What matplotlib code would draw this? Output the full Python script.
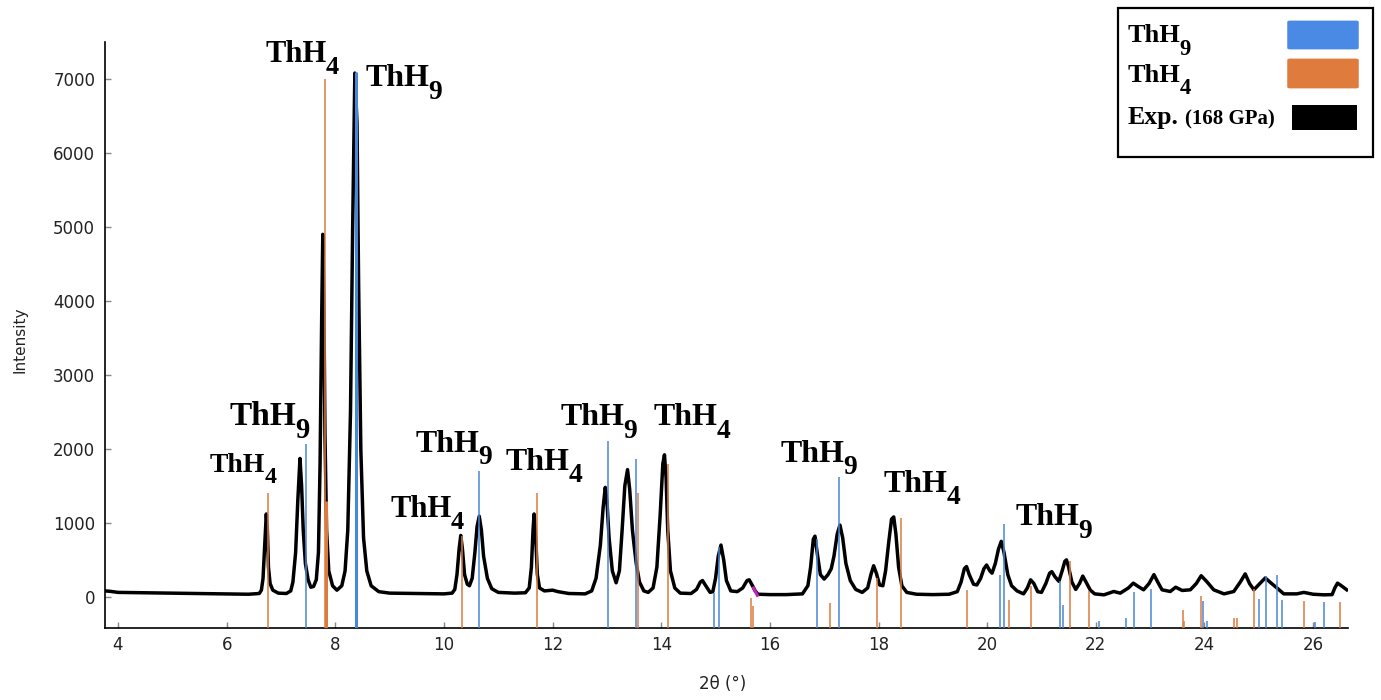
import numpy as np
import matplotlib.pyplot as plt
from matplotlib.patches import Rectangle, FancyBboxPatch
from matplotlib.transforms import offset_copy

exp_x = [3.76, 3.85, 4.0, 4.5, 5.0, 5.5, 6.0, 6.4, 6.6, 6.64, 6.67, 6.70, 6.73, 6.75, 6.77, 6.80, 6.85, 6.95,
         7.1, 7.18, 7.22, 7.27, 7.31, 7.35, 7.38, 7.41, 7.45, 7.50, 7.55, 7.60, 7.65, 7.69, 7.72, 7.75, 7.77,
         7.79, 7.81, 7.84, 7.88, 7.95, 8.03, 8.12, 8.18, 8.23, 8.28, 8.32, 8.36, 8.40, 8.43, 8.47, 8.52, 8.58,
         8.66, 8.8, 9.0, 9.5, 10.0, 10.15, 10.2, 10.24, 10.28, 10.31, 10.34, 10.38, 10.43, 10.47, 10.52, 10.57,
         10.61, 10.65, 10.69, 10.73, 10.80, 10.88, 11.0, 11.3, 11.5, 11.57, 11.61, 11.64, 11.66, 11.69, 11.72,
         11.76, 11.85, 12.0, 12.1, 12.3, 12.6, 12.72, 12.8, 12.88, 12.93, 12.97, 13.0, 13.04, 13.1, 13.17,
         13.23, 13.28, 13.33, 13.38, 13.42, 13.47, 13.50, 13.54, 13.6, 13.68, 13.76, 13.85, 13.92, 13.98, 14.03,
         14.06, 14.09, 14.12, 14.17, 14.25, 14.35, 14.55, 14.65, 14.72, 14.76, 14.82, 14.9, 14.95, 15.0, 15.05,
         15.1, 15.15, 15.2, 15.28, 15.4, 15.5, 15.58, 15.62, 15.68, 15.73, 15.78, 16.0, 16.3, 16.6, 16.7, 16.75,
         16.8, 16.83, 16.87, 16.93, 17.0, 17.07, 17.13, 17.18, 17.24, 17.29, 17.34, 17.40, 17.48, 17.58, 17.7,
         17.8, 17.86, 17.91, 17.96, 18.02, 18.08, 18.13, 18.19, 18.24, 18.28, 18.32, 18.37, 18.43, 18.52, 18.7,
         19.0, 19.3, 19.45, 19.52, 19.58, 19.62, 19.67, 19.75, 19.81, 19.88, 19.94, 19.99, 20.05, 20.09, 20.15,
         20.21, 20.26, 20.31, 20.38, 20.45, 20.55, 20.67, 20.74, 20.8, 20.86, 20.93, 21.0, 21.08, 21.15, 21.19,
         21.25, 21.32, 21.38, 21.43, 21.46, 21.5, 21.56, 21.63, 21.7, 21.76, 21.82, 21.9, 21.98, 22.15, 22.33,
         22.45, 22.6, 22.69, 22.78, 22.88, 22.98, 23.07, 23.14, 23.22, 23.37, 23.47, 23.59, 23.74, 23.85, 23.94,
         24.05, 24.17, 24.36, 24.54, 24.66, 24.75, 24.83, 24.91, 25.02, 25.12, 25.22, 25.34, 25.46, 25.7, 25.83,
         26.0, 26.2, 26.35, 26.40, 26.45, 26.52, 26.62]
exp_y = [80, 75, 60, 55, 50, 45, 40, 35, 45, 90, 250, 700, 1120, 900, 400, 180, 90, 50,
         45, 80, 200, 600, 1300, 1870, 1500, 900, 450, 230, 130, 140, 230, 600, 1800, 3800, 4900,
         4000, 2200, 900, 350, 150, 90, 150, 350, 900, 2500, 5000, 7080, 6400, 4200, 2000, 800, 350,
         150, 70, 50, 45, 40, 50, 100, 300, 650, 830, 650, 300, 170, 150, 250, 600,
         950, 1090, 900, 550, 250, 110, 60, 50, 55, 120, 400, 900, 1120, 800, 300,
         120, 80, 90, 70, 45, 40, 80, 250, 700, 1200, 1480, 1300, 800, 350, 190,
         350, 900, 1500, 1720, 1450, 900, 700, 450, 200, 80, 60, 120, 400, 1100, 1800,
         1920, 1600, 900, 350, 120, 50, 45, 100, 200, 220, 150, 60, 70, 250, 550,
         700, 500, 220, 80, 70, 120, 220, 230, 150, 80, 35, 30, 30, 40, 150, 400,
         780, 820, 600, 300, 240, 300, 380, 550, 850, 970, 800, 450, 220, 100, 60,
         120, 300, 420, 320, 160, 150, 350, 750, 1050, 1080, 850, 400, 150, 60, 35,
         30, 35, 70, 200, 380, 410, 300, 170, 160, 250, 380, 430, 350, 320, 450,
         650, 750, 600, 300, 150, 80, 40, 120, 230, 180, 70, 60, 180, 320, 340,
         270, 210, 350, 480, 500, 400, 200, 100, 180, 280, 200, 90, 40, 27, 72,
         50, 120, 185, 140, 95, 180, 300, 200, 95, 72, 130, 86, 95, 180, 285,
         200, 95, 40, 72, 200, 310, 180, 95, 180, 255, 190, 117, 40, 40, 60,
         35, 27, 30, 120, 185, 150, 95]

# small magenta piece on the curve near 15.7
mag_x = [15.70, 15.77]
mag_y = [120, 20]

# reference stick patterns: position, top of stick
thh9_pos = [7.46, 8.38, 10.65, 13.02, 13.53, 14.98, 15.07, 16.87, 17.28, 20.23, 20.31, 21.34, 21.40,
            22.05, 22.56, 22.71, 23.02, 23.97, 24.05, 25.01, 25.14, 25.34, 25.42, 26.03, 26.21]
thh9_top = [2060, 7100, 1700, 2110, 1860, 50, 680, 780, 1625, 290, 980, 220, -110,
            -330, -290, 72, 100, -60, -330, -30, 280, 300, -45, -340, -75]
thh4_pos = [6.77, 7.81, 7.83, 10.33, 11.71, 13.57, 14.12, 15.65, 15.69, 17.10, 17.97, 18.41, 19.63,
            20.41, 20.81, 21.53, 21.88, 23.60, 23.62, 23.94, 24.55, 24.60, 24.91, 25.83, 26.49]
thh4_top = [1410, 7000, 1300, 820, 1410, 1400, 1800, -20, -130, -80, 260, 1070, 90,
            -45, 150, 480, 80, -180, -330, 15, -290, -290, 100, -50, -75]

# peak annotations
lab_text = ['4', '9', '4', '9', '4', '9', '4', '9', '4', '9', '4', '9']
lab_x = [5.69, 6.06, 6.71, 8.55, 9.01, 9.47, 11.13, 12.14, 13.86, 16.19, 18.09, 20.52]
lab_y = [1690, 2324, 7230, 6905, 1085, 1964, 1720, 2324, 2324, 1829, 1423, 973]
lab_size = [20, 24, 22, 23, 22, 23, 23, 23, 23, 23, 23, 23]

blue = '#4a86d8'
orange = '#dd7a3e'

fig = plt.figure(figsize=(13.81, 7.0), dpi=100)
ax = fig.add_axes([0.076, 0.103, 0.900, 0.837])
renderer = fig.canvas.get_renderer()


def chem(x, y, digit, fs, transform, drop, maker):
    # "ThH" with a big, low subscript digit like the original figure
    t = maker(x, y, 'ThH', fontsize=fs, family='Liberation Serif', weight='bold',
              ha='left', va='baseline', transform=transform, zorder=5)
    w = t.get_window_extent(renderer=renderer).width
    tr = offset_copy(transform, x=w - 1, y=-drop * fs * 100 / 72, units='dots')
    maker(x, y, digit, fontsize=fs * 0.86, family='Liberation Serif', weight='bold',
          ha='left', va='baseline', transform=tr, zorder=5)


ymin = -420
ax.plot(exp_x, exp_y, color='black', lw=2.5, zorder=2, solid_joinstyle='round')
ax.plot(mag_x, mag_y, color='#c020c0', lw=2.2, zorder=3)

for p, t in zip(thh9_pos, thh9_top):
    w = 2.2 if p == 8.38 else 1.1
    ax.vlines(p, ymin, t, color=blue, lw=w, zorder=4)
for p, t in zip(thh4_pos, thh4_top):
    w = 2.2 if p == 7.83 else 1.1
    ax.vlines(p, ymin, t, color=orange, lw=w, zorder=4)

for s, x, y, fs in zip(lab_text, lab_x, lab_y, lab_size):
    chem(x, y, s, fs, ax.transData, 0.4, ax.text)

ax.set_xlim(3.76, 26.64)
ax.set_ylim(ymin, 7500)
ax.set_xticks(range(4, 27, 2))
ax.set_yticks(range(0, 7001, 1000))
ax.tick_params(direction='in', length=4, width=1, color='#888888', labelsize=12, colors='#222222')
ax.tick_params(axis='y', pad=7)
ax.tick_params(axis='x', pad=6)
for side in ['top', 'right']:
    ax.spines[side].set_visible(False)
for side in ['left', 'bottom']:
    ax.spines[side].set_linewidth(1.2)

fig.text(0.0145, 0.514, 'Intensity', rotation=90, ha='center', va='center', fontsize=11, color='#222222')
fig.text(0.523, 0.023, '2θ (°)', ha='center', va='center', fontsize=12, color='#222222')

# legend box
W, H = 1381.0, 700.0
fig.patches.append(Rectangle((1118 / W, 1 - 157 / H), 255 / W, 149 / H, transform=fig.transFigure,
                             fill=False, edgecolor='black', lw=1.6))
fig.patches.append(FancyBboxPatch((1290 / W, 1 - 48 / H), 66 / W, 26 / H, transform=fig.transFigure,
                                  boxstyle='round,pad=0.002', facecolor='#4a8ae4', edgecolor='none'))
fig.patches.append(FancyBboxPatch((1290 / W, 1 - 87 / H), 66 / W, 27 / H, transform=fig.transFigure,
                                  boxstyle='round,pad=0.002', facecolor='#e07b3e', edgecolor='none'))
fig.patches.append(Rectangle((1292 / W, 1 - 130 / H), 65 / W, 25 / H, transform=fig.transFigure,
                             facecolor='black', edgecolor='none'))
chem(1128 / W, 1 - 42 / H, '9', 19, fig.transFigure, 0.5, fig.text)
chem(1128 / W, 1 - 82 / H, '4', 19, fig.transFigure, 0.45, fig.text)
fig.text(1128 / W, 1 - 124 / H, 'Exp.', fontsize=18.5, ha='left', va='baseline',
         family='Liberation Serif', weight='bold')
fig.text(1185 / W, 1 - 124 / H, '(168 GPa)', fontsize=15, ha='left', va='baseline',
         family='Liberation Serif', weight='bold')

fig.savefig('out.png', dpi=100)
